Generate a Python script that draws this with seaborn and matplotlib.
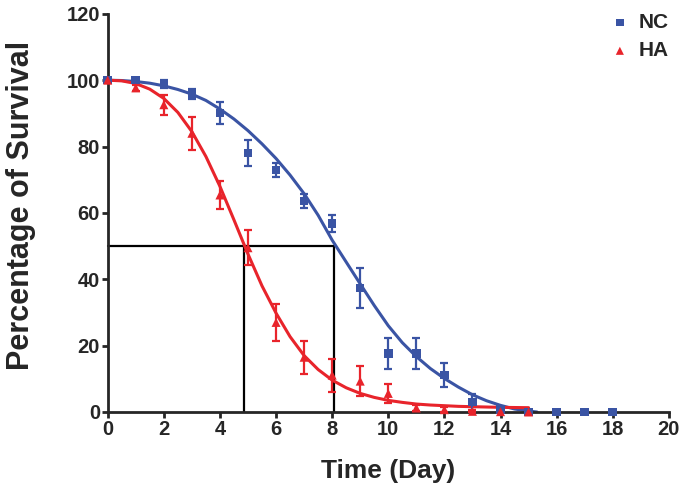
import numpy as np
import pandas as pd
import seaborn as sns
import matplotlib.pyplot as plt

plt.switch_backend("Agg")

# observed survival (%) with error bars
nc_days = [0, 1, 2, 3, 4, 5, 6, 7, 8, 9, 10, 11, 12, 13, 14, 15, 16, 17, 18]
nc_surv = [100, 100, 98.8, 95.8, 90.1, 78.0, 72.9, 63.6, 56.8, 37.4, 17.7, 17.7, 11.1, 3.0, 0.7, 0, 0, 0, 0]
nc_err = [0, 0.4, 1.2, 1.6, 3.4, 4.0, 2.1, 2.1, 2.6, 6.0, 4.6, 4.6, 3.6, 2.3, 0.7, 0, 0, 0, 0]

ha_days = [0, 1, 2, 3, 4, 5, 6, 7, 8, 9, 10, 11, 12, 13, 14, 15]
ha_surv = [100, 97.7, 92.6, 84.0, 65.4, 49.5, 27.0, 16.5, 11.1, 9.3, 5.6, 1.2, 0.7, 0.2, 0.1, 0]
ha_err = [0, 1.0, 3.0, 5.0, 4.3, 5.3, 5.5, 5.0, 5.0, 4.6, 2.9, 1.0, 0.7, 0.3, 0.2, 0]

# fitted curves
nc_fit_x = [0, 0.5, 1, 1.5, 2, 2.5, 3, 3.5, 4, 4.5, 5, 5.5, 6, 6.5, 7, 7.5, 8,
            8.5, 9, 9.5, 10, 10.5, 11, 11.5, 12, 12.5, 13, 13.5, 14, 14.5, 15, 15.3]
nc_fit_y = [100.0, 99.9, 99.6, 99.1, 98.3, 97.2, 95.8, 93.9, 91.3, 88.3, 84.8, 80.8, 76.4, 71.4,
            65.8, 59.3, 51.8, 45.2, 38.6, 32.1, 26.0, 20.9, 16.7, 13.1, 10.1, 7.5, 5.2, 3.4,
            2.0, 0.9, 0.3, 0.0]
ha_fit_x = [0, 0.5, 1, 1.5, 2, 2.5, 3, 3.5, 4, 4.5, 5, 5.5, 6, 6.5, 7, 7.5, 8,
            8.5, 9, 9.5, 10, 10.5, 11, 11.5, 12, 12.5, 13, 14, 15]
ha_fit_y = [100.0, 99.8, 99.0, 97.3, 94.5, 90.3, 84.5, 77.0, 68.0, 57.9, 47.6, 38.0, 29.8, 22.7,
            17.0, 12.8, 9.6, 7.3, 5.6, 4.4, 3.5, 2.9, 2.4, 2.1, 1.9, 1.7, 1.6, 1.4, 1.3]

# median survival (LT50) guide lines
lt50 = {"HA": 4.87, "NC": 8.07}

BLUE = "#3a54a4"
RED = "#e8242b"

sns.set_style("ticks")
plt.rcParams["font.family"] = ["Liberation Sans", "DejaVu Sans"]
plt.rcParams["font.weight"] = "bold"

fig, ax = plt.subplots(figsize=(6.86, 4.94), dpi=100)
fig.subplots_adjust(left=0.157, right=0.975, bottom=0.166, top=0.972)

# guide lines
ax.plot([0, lt50["NC"]], [50, 50], color="black", lw=1.6, zorder=1, clip_on=False)
for v in lt50.values():
    ax.plot([v, v], [0, 50], color="black", lw=1.6, zorder=1)

fit_nc = pd.DataFrame({"day": nc_fit_x, "surv": nc_fit_y})
fit_ha = pd.DataFrame({"day": ha_fit_x, "surv": ha_fit_y})
sns.lineplot(data=fit_nc, x="day", y="surv", color=BLUE, lw=2.2, ax=ax, zorder=2)
sns.lineplot(data=fit_ha, x="day", y="surv", color=RED, lw=2.2, ax=ax, zorder=2)

ax.errorbar(nc_days, nc_surv, yerr=nc_err, fmt="none", ecolor=BLUE, elinewidth=1.6,
            capsize=3, capthick=1.6, zorder=3, clip_on=False, label="_nolegend_")
ax.errorbar(ha_days, ha_surv, yerr=ha_err, fmt="none", ecolor=RED, elinewidth=1.6,
            capsize=3, capthick=1.6, zorder=3, clip_on=False, label="_nolegend_")

obs_nc = pd.DataFrame({"day": nc_days, "surv": nc_surv})
obs_ha = pd.DataFrame({"day": ha_days, "surv": ha_surv})
sns.scatterplot(data=obs_nc, x="day", y="surv", marker="s", s=38, color=BLUE,
                edgecolor="none", ax=ax, zorder=4, clip_on=False, label="NC")
sns.scatterplot(data=obs_ha, x="day", y="surv", marker="^", s=42, color=RED,
                edgecolor="none", ax=ax, zorder=4, clip_on=False, label="HA")

ax.set_xlim(0, 20)
ax.set_ylim(0, 120)
ax.set_xticks(np.arange(0, 21, 2))
ax.set_yticks(np.arange(0, 121, 20))
for s in ["left", "bottom"]:
    ax.spines[s].set_linewidth(2)
sns.despine(ax=ax)
ax.tick_params(width=2, length=4, labelsize=14.5, pad=1.5)
for lab in ax.get_xticklabels() + ax.get_yticklabels():
    lab.set_fontweight("bold")

ax.set_xlabel("Time (Day)", fontsize=19, fontweight="bold")
ax.set_ylabel("Percentage of Survival", fontsize=22, fontweight="bold")
ax.xaxis.set_label_coords(0.5, -0.118)
ax.yaxis.set_label_coords(-0.128, 0.52)

ax.legend(loc="upper right", bbox_to_anchor=(0.99, 0.995), bbox_transform=fig.transFigure,
          frameon=False, prop={"size": 15, "weight": "bold"}, handlelength=0.8,
          handletextpad=0.5, labelspacing=0.45, borderpad=0, markerscale=0.9)

fig.savefig("out.png", dpi=100)
